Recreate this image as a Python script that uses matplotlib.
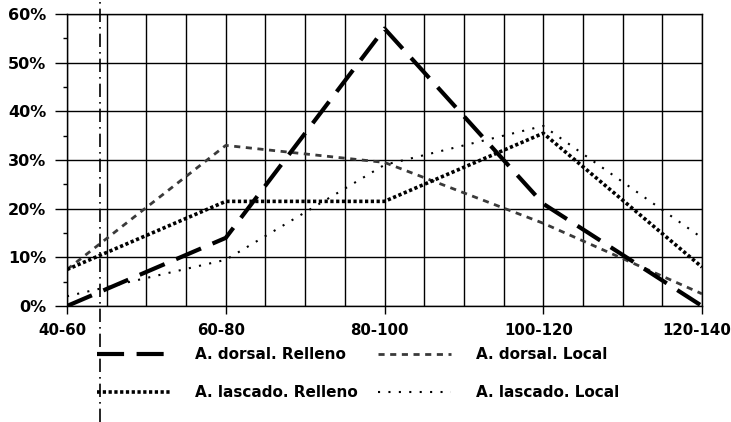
import matplotlib
matplotlib.use("Agg")
import matplotlib.pyplot as plt
import matplotlib.transforms as mtransforms
from matplotlib.ticker import MultipleLocator, FuncFormatter
from matplotlib.lines import Line2D

categories = ["40-60", "60-80", "80-100", "100-120", "120-140"]
dorsal_relleno = [0, 14, 57, 21, 0]
dorsal_local = [7.5, 33, 29.5, 17, 2.5]
lascado_relleno = [7.5, 21.5, 21.5, 35.5, 8]
lascado_local = [2, 9.5, 29, 37, 14]
series_names = ["A. dorsal. Relleno", "A. dorsal. Local", "A. lascado. Relleno", "A. lascado. Local"]

plt.rcParams['font.family'] = ['DejaVu Sans']
plt.rcParams['font.weight'] = 'bold'

fig = plt.figure(figsize=(7.31, 4.22), dpi=100)
ax = fig.add_axes([67/731, 1-306/422, (702-67)/731, (306-14)/422])

x = list(range(len(categories)))
l1, = ax.plot(x, dorsal_relleno, color='black', lw=3.0, dashes=(6.5, 3.0), solid_capstyle='butt', dash_capstyle='butt', zorder=5)
l2, = ax.plot(x, dorsal_local, color='#3a3a3a', lw=2.0, dashes=(2.2, 2.0), zorder=4)
l3, = ax.plot(x, lascado_relleno, color='black', lw=2.6, dashes=(0.9, 0.7), zorder=4)
l4, = ax.plot(x, lascado_local, color='black', lw=1.5, dashes=(1.0, 4.0), zorder=4)

ax.set_xlim(0, 4)
ax.set_ylim(0, 60)
ax.set_xticks(x)
ax.set_xticklabels(categories)
ax.xaxis.set_minor_locator(MultipleLocator(0.25))
ax.yaxis.set_major_locator(MultipleLocator(10))
ax.yaxis.set_minor_locator(MultipleLocator(5))
ax.yaxis.set_major_formatter(FuncFormatter(lambda v, p: f"{int(v)}%"))
ax.grid(True, which='major', axis='both', color='black', lw=1.0)
ax.grid(True, which='minor', axis='x', color='black', lw=1.0)
ax.tick_params(axis='x', which='major', direction='out', length=6, width=1, pad=6, labelsize=10.8)
ax.tick_params(axis='x', which='minor', length=0)
ax.tick_params(axis='y', which='major', direction='out', length=9, width=1, pad=6, labelsize=11.5)
ax.tick_params(axis='y', which='minor', direction='out', length=3, width=1)
for s in ax.spines.values():
    s.set_color('black')
    s.set_linewidth(1.0)
shift = mtransforms.ScaledTranslation(-5/100, 0, fig.dpi_scale_trans)
for lab in ax.get_xticklabels():
    lab.set_fontweight('bold')
    lab.set_transform(lab.get_transform() + shift)
for lab in ax.get_yticklabels():
    lab.set_fontweight('bold')

fig.legend([l1, l3, l2, l4], [series_names[0], series_names[2], series_names[1], series_names[3]],
           ncol=2, loc='upper left', bbox_to_anchor=(97/731, 1-347/422), frameon=False,
           borderpad=0, borderaxespad=0,
           handlelength=4.8, handletextpad=1.6, columnspacing=1.35, labelspacing=1.5,
           prop={'weight': 'bold', 'size': 11})

# scanning artifact vertical line
fig.add_artist(Line2D([100/731, 100/731], [0, 1], color='black', lw=1.2, dashes=(8, 3, 1, 3), transform=fig.transFigure))

fig.savefig("out.png", dpi=100)
